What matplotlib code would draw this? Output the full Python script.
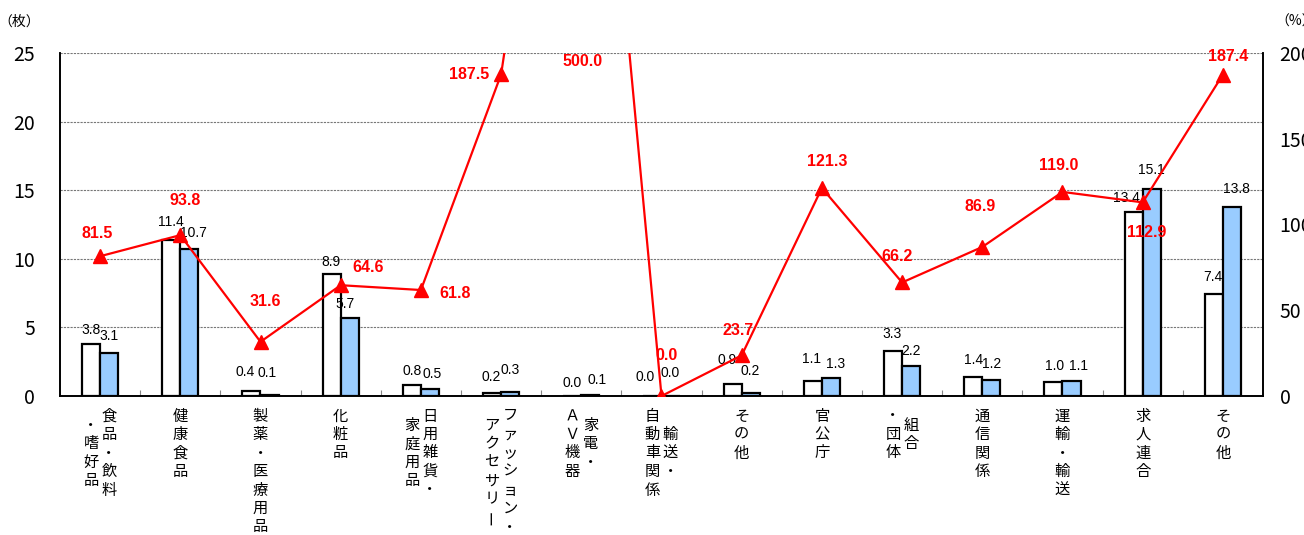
import matplotlib
matplotlib.use("Agg")
import matplotlib.pyplot as plt
import numpy as np

# category labels, one list of columns per category (first column = rightmost)
label_columns = [
    ["食品・飲料", "・嗜好品"],
    ["健康食品"],
    ["製薬・医療用品"],
    ["化粧品"],
    ["日用雑貨・", "家庭用品"],
    ["ファッション・", "アクセサリー"],
    ["家電・", "ＡＶ機器"],
    ["輸送・", "自動車関係"],
    ["その他"],
    ["官公庁"],
    ["組合", "・団体"],
    ["通信関係"],
    ["運輸・輸送"],
    ["求人連合"],
    ["その他"],
]

prev_count = [3.8, 11.4, 0.4, 8.9, 0.8, 0.2, 0.0, 0.0, 0.9, 1.1, 3.3, 1.4, 1.0, 13.4, 7.4]
curr_count = [3.1, 10.7, 0.1, 5.7, 0.5, 0.3, 0.1, 0.0, 0.2, 1.3, 2.2, 1.2, 1.1, 15.1, 13.8]
ratio_pct = [81.5, 93.8, 31.6, 64.6, 61.8, 187.5, 500.0, 0.0, 23.7, 121.3, 66.2, 86.9, 119.0, 112.9, 187.4]

left_ticks = [0, 5, 10, 15, 20, 25]
right_ticks = [0, 50, 100, 150, 200]

# pixel offsets of the labels from the bar tops / markers (dx, dy)
prev_label_offsets = [(0, 14), (0, 18), (-6, 19), (-1, 12), (0, 14), (-1, 16), (0, 13), (-7, 19),
                      (-6, 24), (-1, 22), (-1, 17), (0, 17), (1, 16), (-7, 14), (-1, 17)]
curr_label_offsets = [(0, 17), (4, 16), (-2, 22), (-5, 14), (2, 15), (0, 22), (7, 15), (0, 23),
                      (-1, 22), (5, 14), (0, 15), (0, 16), (7, 15), (0, 19), (5, 18)]
ratio_label_offsets = [(-3, 23), (5, 35), (5, 40), (27, 18), (34, -3), (-32, 0), (1, -8),
                       (5, 41), (-4, 25), (5, 26), (-5, 26), (-2, 40), (-4, 26), (4, -30), (5, 18)]

PX = 0.72  # points per pixel at dpi 100
CJK = ["Noto Sans CJK JP", "DejaVu Sans"]
plt.rcParams["font.family"] = CJK

fig = plt.figure(figsize=(13.04, 5.35), dpi=100)
ax = fig.add_axes([60 / 1304, 139 / 535, 1203 / 1304, 343 / 535])
ax2 = ax.twinx()

x = np.arange(len(prev_count))
w = 0.225
ax.bar(x - w / 2, prev_count, w, color="white", edgecolor="black", linewidth=1.6, zorder=3)
ax.bar(x + w / 2, curr_count, w, color="#99CCFF", edgecolor="black", linewidth=1.6, zorder=3)

for xi, v, (dx, dy) in zip(x, prev_count, prev_label_offsets):
    ax.annotate(f"{v:.1f}", (xi - w / 2, v), xytext=(dx * PX, dy * PX), textcoords="offset points",
                ha="center", va="center", fontsize=10, family="Liberation Sans", zorder=4)
for xi, v, (dx, dy) in zip(x, curr_count, curr_label_offsets):
    ax.annotate(f"{v:.1f}", (xi + w / 2, v), xytext=(dx * PX, dy * PX), textcoords="offset points",
                ha="center", va="center", fontsize=10, family="Liberation Sans", zorder=4)

ax.set_xlim(-0.5, len(x) - 0.5)
ax.set_ylim(0, 25)
ax.set_yticks(left_ticks)
ax.set_yticklabels([str(t) for t in left_ticks], fontsize=14)
ax.tick_params(axis="y", length=0, pad=18)
ax.set_xticks([])
ax.set_xticks(np.arange(len(x) - 1) + 0.5, minor=True)
ax.tick_params(axis="x", which="minor", direction="in", length=4, color="#888888", width=0.8)
ax.yaxis.grid(True, color="#777777", linestyle=(0, (2, 1)), linewidth=0.8)
ax.set_axisbelow(True)

ax2.plot(x, ratio_pct, color="red", linewidth=1.6, marker="^", markersize=10, zorder=5)
ax2.set_ylim(0, 200)
ax2.set_yticks(right_ticks)
ax2.set_yticklabels([str(t) for t in right_ticks], fontsize=14)
ax2.tick_params(axis="y", length=0, pad=12)
for xi, v, (dx, dy) in zip(x, ratio_pct, ratio_label_offsets):
    ax2.annotate(f"{v:.1f}", (xi, min(v, 200)), xytext=(dx * PX, dy * PX), textcoords="offset points",
                 ha="center", va="center", fontsize=11.5, fontweight="bold", color="red",
                 family="Liberation Sans", annotation_clip=False, zorder=6)

for a in (ax, ax2):
    a.spines["top"].set_visible(False)
    for s in ("left", "right", "bottom"):
        a.spines[s].set_linewidth(1.2)

# vertical category labels
top_px, pitch_px, col_px = 20, 18.5, 18
for xi, cols in zip(x, label_columns):
    n_max = max(len(c) for c in cols)
    ncol = len(cols)
    for j, col in enumerate(cols):
        dx = ((ncol - 1) / 2 - j) * col_px
        start = (n_max - len(col)) / 2
        for k, ch in enumerate(col):
            dy = top_px + (start + k) * pitch_px
            ax.annotate(ch, (xi, 0), xycoords=("data", "axes fraction"),
                        xytext=(dx * PX, -dy * PX), textcoords="offset points",
                        ha="center", va="center", fontsize=11,
                        rotation=90 if ch == "ー" else 0, annotation_clip=False)

fig.text(19 / 1304, 1 - 22 / 535, "（枚）", ha="center", va="center", fontsize=10)
fig.text(1296 / 1304, 1 - 22 / 535, "（%）", ha="center", va="center", fontsize=10)

fig.savefig("out.png", dpi=100)
